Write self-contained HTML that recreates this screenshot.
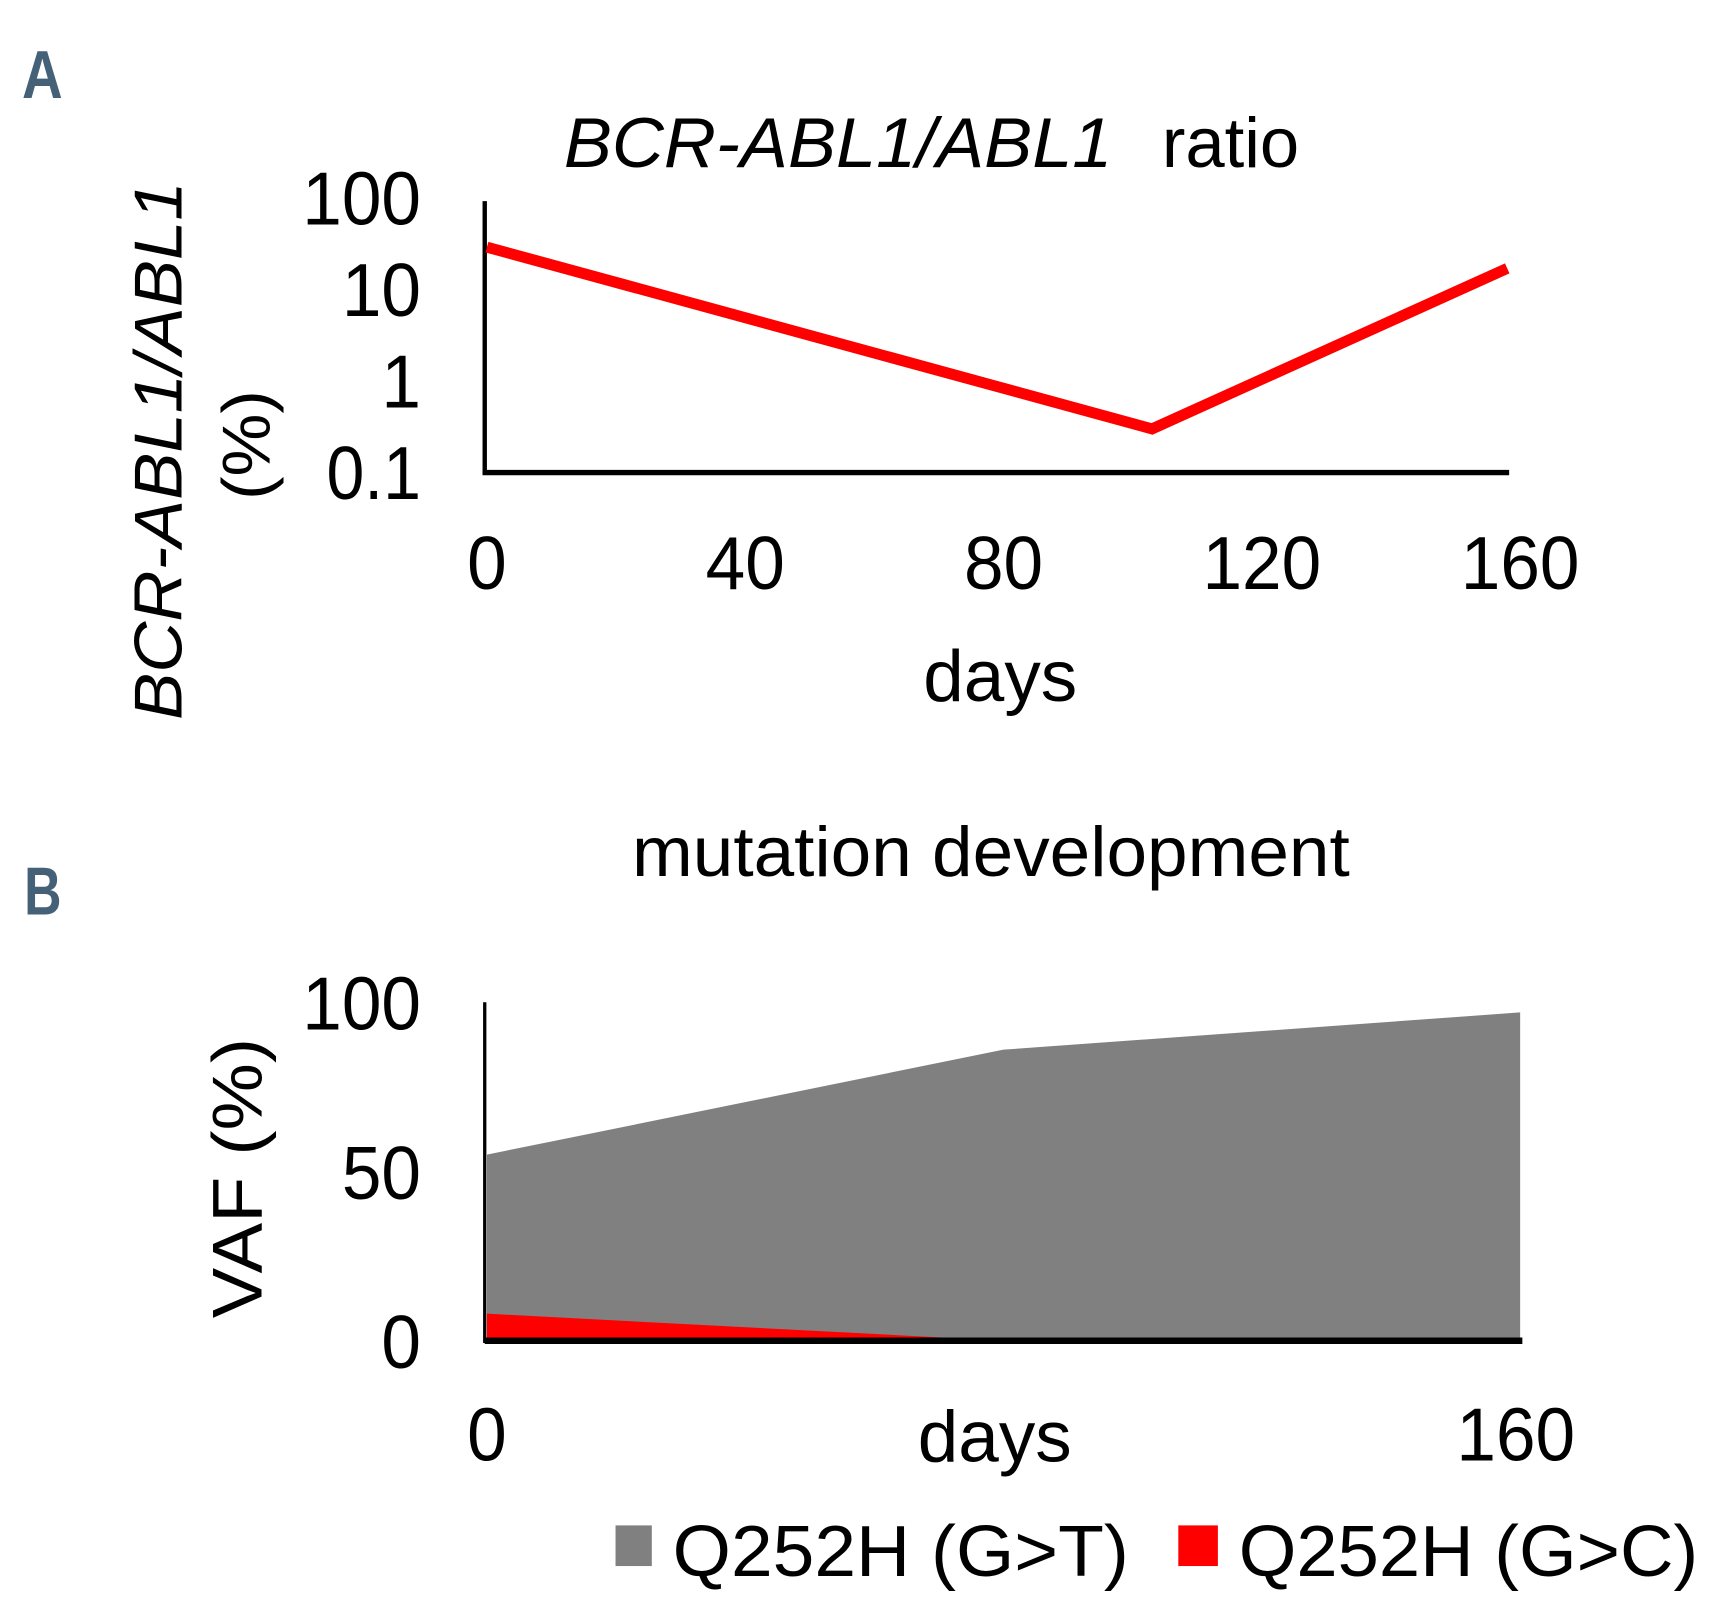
<!DOCTYPE html>
<html><head><meta charset="utf-8"><style>
html,body{margin:0;padding:0;background:#fff;}
svg{display:block;}
text{font-family:"Liberation Sans",sans-serif;fill:#000;}
</style></head><body>
<svg id="fig" width="1718" height="1621" viewBox="0 0 1563 1475" preserveAspectRatio="none" xmlns="http://www.w3.org/2000/svg">
<text x="20" y="89" font-size="62" font-weight="bold" textLength="37" lengthAdjust="spacingAndGlyphs" style="fill:#456178">A</text>
<text x="22" y="832" font-size="62" font-weight="bold" textLength="34" lengthAdjust="spacingAndGlyphs" style="fill:#456178">B</text>

<g id="chartA">
<text y="152" font-size="64"><tspan x="513" font-style="italic" textLength="499" lengthAdjust="spacingAndGlyphs">BCR-ABL1/ABL1</tspan><tspan x="1057" textLength="125" lengthAdjust="spacingAndGlyphs">ratio</tspan></text>
<g transform="translate(165,410) rotate(-90)"><text x="0" y="0" font-size="62" font-style="italic" text-anchor="middle" textLength="490" lengthAdjust="spacingAndGlyphs">BCR-ABL1/ABL1</text></g>
<g transform="translate(245,405) rotate(-90)"><text x="0" y="0" font-size="62" text-anchor="middle" textLength="100" lengthAdjust="spacingAndGlyphs">(%)</text></g>
<text x="910" y="638" font-size="66" text-anchor="middle" textLength="140" lengthAdjust="spacingAndGlyphs">days</text>
</g>

<g id="chartB">
<text x="575" y="797" font-size="64" textLength="653" lengthAdjust="spacingAndGlyphs">mutation  development</text>
<g transform="translate(238,1072) rotate(-90)"><text x="0" y="0" font-size="64" text-anchor="middle" textLength="255" lengthAdjust="spacingAndGlyphs">VAF (%)</text></g>
<text x="905" y="1330" font-size="66" text-anchor="middle" textLength="140" lengthAdjust="spacingAndGlyphs">days</text>
<rect x="560" y="1388" width="33" height="37" fill="#808080"/>
<text x="612" y="1434" font-size="66" textLength="415" lengthAdjust="spacingAndGlyphs">Q252H (G&gt;T)</text>
<rect x="1072" y="1388" width="36" height="37" fill="#ff0000"/>
<text x="1127" y="1434" font-size="66" textLength="418" lengthAdjust="spacingAndGlyphs">Q252H (G&gt;C)</text>
</g>
</svg>
<script>
// Chart A data
const aDays = [0, 103, 158];
const aRatio = [29, 0.3, 17];
const aYTicks = [0.1, 1, 10, 100];
const aYTickLabels = ["0.1", "1", "10", "100"];
const aXTicks = [0, 40, 80, 120, 160];
const aXTickLabels = ["0", "40", "80", "120", "160"];
// Chart B data
const bDays = [0, 80, 160];
const bGT = [55, 86, 97];
const bGC = [8, 0, 0];
const bYTicks = [0, 50, 100];
const bYTickLabels = ["0", "50", "100"];
const bXTicks = [0, 160];
const bXTickLabels = ["0", "160"];

const NS = "http://www.w3.org/2000/svg";
function mk(parent, tag, attrs){const e=document.createElementNS(NS,tag);for(const k in attrs)e.setAttribute(k,attrs[k]);parent.appendChild(e);return e;}
function labW(s){let w=0;for(const c of s)w+=(c==='.'?14:36);return w;}
function tickText(parent, x, y, anchor, s){
  const tx = mk(parent,'text',{x:x,y:y,'font-size':68,'text-anchor':anchor,textLength:labW(s),lengthAdjust:'spacingAndGlyphs'});
  tx.textContent = s;
  return tx;
}

// Chart A scales
const ax = d => 443 + d * (940/160);
const ay = v => 430 - (Math.log10(v) + 1) * 83.3;
const gA = document.getElementById('chartA');
let l = mk(gA,'line',{x1:441,y1:183,x2:441,y2:432,stroke:'#000','stroke-width':4});


l = mk(gA,'line',{x1:439,y1:430,x2:1373,y2:430,stroke:'#000','stroke-width':5});


aYTicks.forEach((t,i)=>{
  const tx = tickText(gA, 383, ay(t)+24, 'end', aYTickLabels[i]);
  
  
});
aXTicks.forEach((t,i)=>{
  const tx = tickText(gA, ax(t), 536, 'middle', aXTickLabels[i]);
  
  
});
const pA = mk(gA,'polyline',{points:aDays.map((d,i)=>ax(d)+','+ay(aRatio[i])).join(' '),fill:'none',stroke:'#ff0000','stroke-width':10,'stroke-linejoin':'miter'});



// Chart B scales
const bx = d => 443 + d * (940/160);
const by = v => 1220 - v * 3.08;
const gB = document.getElementById('chartB');
const areaPts = (vals) => bDays.map((d,i)=>bx(d)+','+by(vals[i])).join(' ') + ' ' + bx(bDays[bDays.length-1]) + ',' + by(0) + ' ' + bx(bDays[0]) + ',' + by(0);
const aGT = mk(gB,'polygon',{points:areaPts(bGT),fill:'#808080'});


const aGC = mk(gB,'polygon',{points:areaPts(bGC),fill:'#ff0000'});


l = mk(gB,'line',{x1:441,y1:912,x2:441,y2:1222,stroke:'#000','stroke-width':3});


l = mk(gB,'line',{x1:441,y1:1220,x2:1385,y2:1220,stroke:'#000','stroke-width':6});


bYTicks.forEach((t,i)=>{
  const tx = tickText(gB, 383, by(t)+25, 'end', bYTickLabels[i]);
  
  
});
bXTicks.forEach((t,i)=>{
  const tx = tickText(gB, bx(t)-(i?4:0), 1329, 'middle', bXTickLabels[i]);
  
  
});
</script>
</body></html>
